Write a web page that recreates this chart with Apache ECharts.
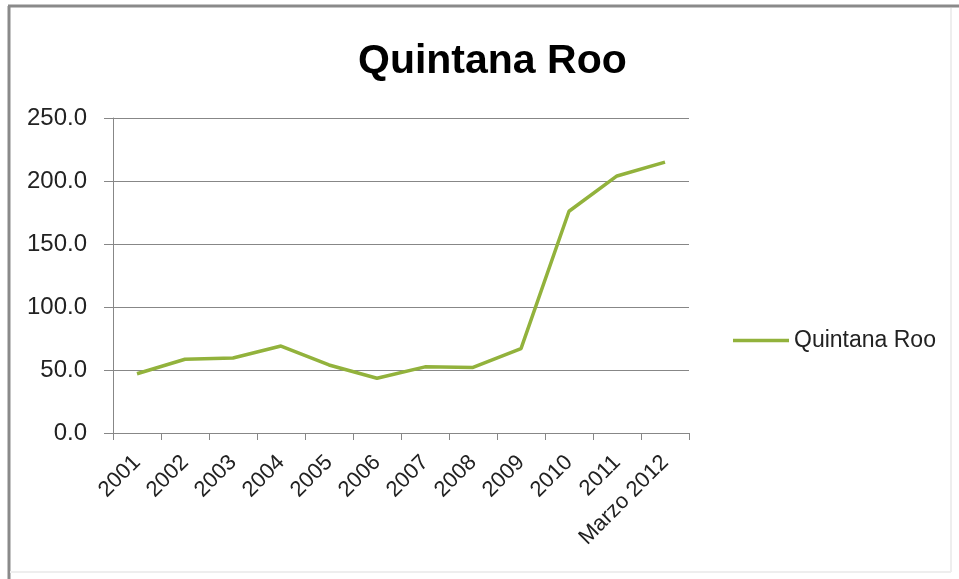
<!DOCTYPE html>
<html>
<head>
<meta charset="utf-8">
<script src="https://cdn.jsdelivr.net/npm/echarts@6/dist/echarts.min.js"></script>
<style>
    html, body { margin: 0; padding: 0; background: #ffffff; }
    #chart { width: 959px; height: 579px; }
</style>
</head>
<body>
<div id="chart"></div>
<script>
// categories and values
const categories = ['2001', '2002', '2003', '2004', '2005', '2006', '2007', '2008', '2009', '2010', '2011', 'Marzo 2012'];
const quintanaRoo = [47, 58.5, 59.5, 69, 54, 43.5, 52.5, 52, 67, 176, 204, 215];
const yTicks = [0, 50, 100, 150, 200, 250];

const lineColor = '#92b23c';
const gridGray = '#878787';

const myChart = echarts.init(document.getElementById('chart'));

const option = {
    backgroundColor: '#ffffff',
    animation: false,
    title: {
        text: 'Quintana Roo',
        left: 353,
        top: 36,
        textStyle: {
            fontFamily: 'Liberation Sans',
            fontWeight: 'bold',
            fontSize: 41,
            color: '#000000'
        }
    },
    legend: {
        orient: 'vertical',
        left: 728,
        top: 324,
        icon: 'rect',
        itemWidth: 56,
        itemHeight: 3.5,
        textStyle: {
            fontFamily: 'Liberation Sans',
            fontSize: 23,
            color: '#222222'
        },
        data: ['Quintana Roo']
    },
    grid: {
        left: 113,
        right: 270,
        top: 118,
        bottom: 146,
        containLabel: false
    },
    xAxis: {
        type: 'category',
        data: categories,
        boundaryGap: true,
        axisLine: { lineStyle: { color: gridGray, width: 1 } },
        axisTick: { show: true, length: 7, lineStyle: { color: gridGray } },
        axisLabel: {
            rotate: 45,
            interval: 0,
            margin: 26,
            fontFamily: 'Liberation Sans',
            fontSize: 22,
            color: '#222222'
        }
    },
    yAxis: {
        type: 'value',
        min: yTicks[0],
        max: yTicks[yTicks.length - 1],
        interval: 50,
        axisLine: { show: true, lineStyle: { color: gridGray, width: 1 } },
        axisTick: { show: true, length: 9, lineStyle: { color: gridGray } },
        splitLine: { show: true, lineStyle: { color: gridGray, width: 1 } },
        axisLabel: {
            margin: 26,
            fontFamily: 'Liberation Sans',
            fontSize: 24,
            color: '#222222',
            formatter: v => v.toFixed(1)
        }
    },
    series: [
        {
            name: 'Quintana Roo',
            type: 'line',
            data: quintanaRoo,
            symbol: 'none',
            lineStyle: { color: lineColor, width: 3.5 },
            itemStyle: { color: lineColor }
        }
    ],
    graphic: [
        // chart frame: dark on left/top, faint on right/bottom
        { type: 'line', shape: { x1: 9, y1: 6, x2: 9, y2: 579 }, style: { stroke: '#8a8a8a', lineWidth: 3 } },
        { type: 'line', shape: { x1: 8, y1: 6, x2: 959, y2: 6 }, style: { stroke: '#8a8a8a', lineWidth: 3 } },
        { type: 'line', shape: { x1: 951, y1: 8, x2: 951, y2: 572 }, style: { stroke: '#eeeeee', lineWidth: 2 } },
        { type: 'line', shape: { x1: 10, y1: 572, x2: 951, y2: 572 }, style: { stroke: '#eeeeee', lineWidth: 2 } }
    ]
};

option && myChart.setOption(option);
</script>
</body>
</html>
